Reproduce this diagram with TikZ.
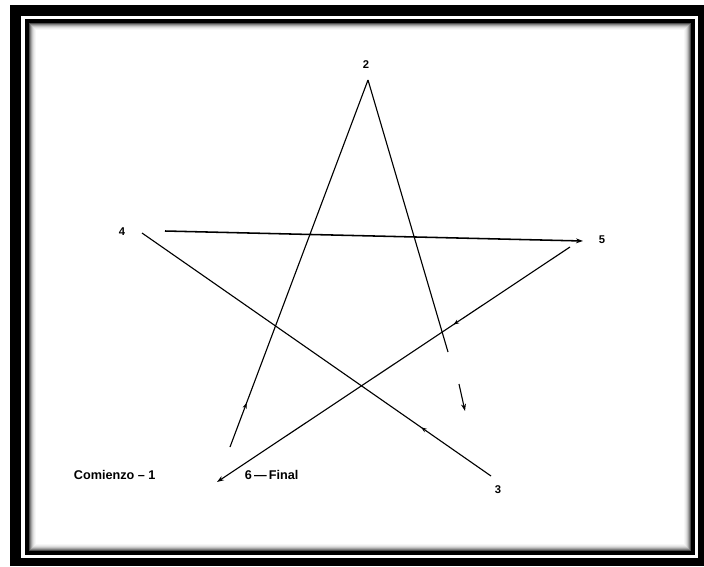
\documentclass[tikz,border=0pt]{standalone}
\usepackage{fontspec}
\setmainfont{Liberation Sans}
\usetikzlibrary{arrows.meta,decorations.markings}

\begin{document}
\begin{tikzpicture}[
      x=0.025cm, y=-0.025cm,
      font=\small,
      strich/.style={line width=0.8pt},
      pfeil/.style={strich, -{Stealth[length=5pt, width=3.5pt]}},
      mitte/.style={postaction={decorate}, decoration={markings,
        mark=at position #1 with {\arrow{Stealth[length=4pt, width=3pt]}}}},
      ziffer/.style={font=\footnotesize\bfseries, inner sep=1pt}
    ]
      \useasboundingbox (0,0) rectangle (704,566);
      % Rahmen
      \fill[black] (10,5) rectangle (704,566);
      \fill[white] (21,16) rectangle (698,558);
      \fill[black] (25,19) rectangle (695,555);
      \foreach \i/\g in {0/70,1/50,2/35,3/22,4/13,5/7,6/3}
        \fill[black!\g] (29+\i,23+\i) rectangle (691-\i,551-\i);
      \fill[white] (36,30) rectangle (684,544);

      % Sternpunkte
      \coordinate (eins) at (230,447);
      \coordinate (zwei) at (368,80);
      \coordinate (zweiende) at (448,352);
      \coordinate (kleinoben) at (459,384);
      \coordinate (kleinunten) at (465,411);
      \coordinate (drei) at (491,476);
      \coordinate (vier) at (142,233);
      \coordinate (vierstart) at (165,231);
      \coordinate (fuenf) at (583,241);
      \coordinate (fuenfstart) at (570,247);
      \coordinate (sechs) at (217,482);

      \node[ziffer] (lzwei) at (366,65) {2};
      \node[ziffer] (ldrei) at (498,490) {3};
      \node[ziffer] (lvier) at (122,232) {4};
      \node[ziffer] (lfuenf) at (602,240) {5};
      \node[anchor=west, font=\small\bfseries] (start) at (69,475) {Comienzo -- 1};
      \node[anchor=west, font=\small\bfseries] (ende) at (240,475) {6\,---\,Final};

      \draw[strich, mitte=0.12] (eins) -- (zwei);
      \draw[strich] (zwei) -- (zweiende);
      \draw[pfeil] (kleinoben) -- (kleinunten);
      \draw[strich, mitte=0.2] (drei) -- (vier);
      \draw[pfeil, line width=1.1pt] (vierstart) -- (fuenf);
      \draw[pfeil, mitte=0.33] (fuenfstart) -- (sechs);
    \end{tikzpicture}
\end{document}
